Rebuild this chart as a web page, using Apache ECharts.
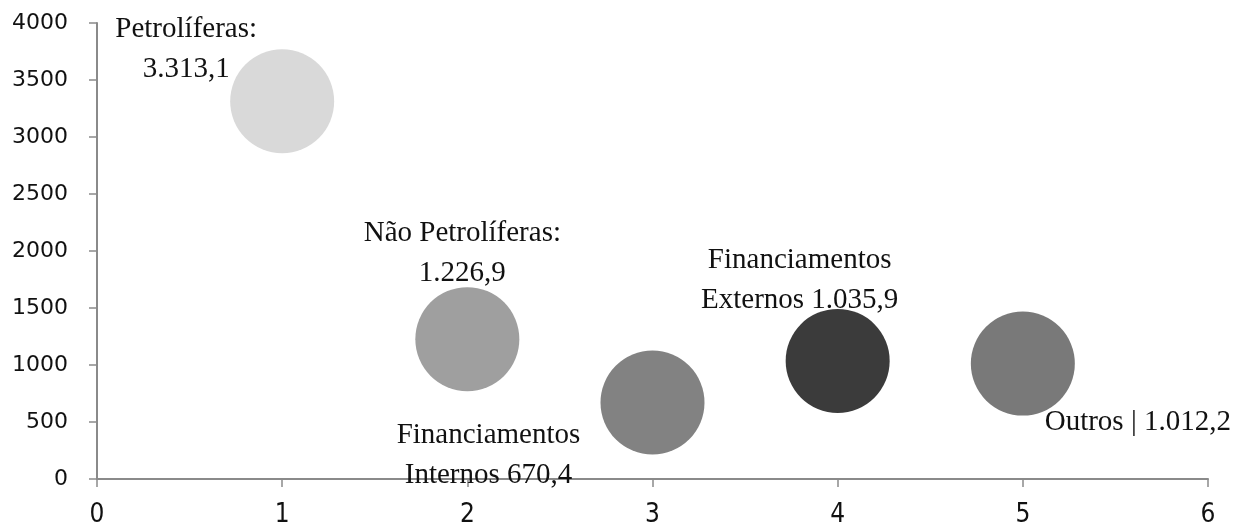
<!DOCTYPE html>
<html>
<head>
<meta charset="utf-8">
<script src="https://cdn.jsdelivr.net/npm/echarts@6/dist/echarts.min.js"></script>
<style>
html,body{margin:0;padding:0;background:#fff;}
#chart{width:1245px;height:528px;}
</style>
</head>
<body>
<div id="chart"></div>
<script>
// Data
var names = ['Petrolíferas', 'Não Petrolíferas', 'Financiamentos Internos', 'Financiamentos Externos', 'Outros'];
var xValues = [1, 2, 3, 4, 5];
var yValues = [3313.1, 1226.9, 670.4, 1035.9, 1012.2];
var labelTexts = ['Petrolíferas:\n3.313,1', 'Não Petrolíferas:\n1.226,9', 'Financiamentos\nInternos 670,4', 'Financiamentos\nExternos 1.035,9', 'Outros | 1.012,2'];
var xTicks = [0, 1, 2, 3, 4, 5, 6];
var yTicks = [0, 500, 1000, 1500, 2000, 2500, 3000, 3500, 4000];

// Styles
var colors = ['#d9d9d9', '#9f9f9f', '#828282', '#3b3b3b', '#797979'];
var labelOffsets = [[-96, -52], [-5, -86], [-164, 53], [-38, -81], [115, 59]];

var chart = echarts.init(document.getElementById('chart'));
var data = names.map(function (n, i) {
  return {
    name: n,
    value: [xValues[i], yValues[i]],
    itemStyle: { color: colors[i], opacity: 1 },
    label: {
      show: true,
      formatter: labelTexts[i],
      position: 'inside',
      offset: labelOffsets[i],
      color: '#111111',
      opacity: 1
    }
  };
});

chart.setOption({
  animation: false,
  backgroundColor: '#ffffff',
  grid: { left: 97, right: 37, top: 23, bottom: 49 },
  xAxis: {
    type: 'value',
    min: xTicks[0],
    max: xTicks[xTicks.length - 1],
    interval: 1,
    splitLine: { show: false },
    axisLine: { show: true, lineStyle: { color: '#8a8a8a', width: 2 } },
    axisTick: { show: true, length: 8, lineStyle: { color: '#8a8a8a', width: 1.5 } },
    axisLabel: {
      color: '#111',
      fontFamily: '"DejaVu Sans Condensed", "Liberation Sans Narrow", "DejaVu Sans", sans-serif',
      fontSize: 26,
      margin: 23
    }
  },
  yAxis: {
    type: 'value',
    min: yTicks[0],
    max: yTicks[yTicks.length - 1],
    interval: 500,
    splitLine: { show: false },
    axisLine: { show: true, lineStyle: { color: '#8a8a8a', width: 2 } },
    axisTick: { show: true, length: 8, lineStyle: { color: '#8a8a8a', width: 1.5 } },
    axisLabel: {
      color: '#111',
      fontFamily: '"DejaVu Sans", sans-serif',
      fontSize: 22,
      margin: 29,
      formatter: function (v) { return String(v); }
    }
  },
  series: [{
    type: 'scatter',
    symbol: 'circle',
    symbolSize: 104,
    data: data,
    itemStyle: { opacity: 1 },
    label: {
      color: '#111',
      fontFamily: '"Liberation Serif", "DejaVu Serif", serif',
      fontSize: 29,
      lineHeight: 40,
      align: 'center',
      verticalAlign: 'middle'
    },
    emphasis: { disabled: true }
  }]
});
</script>
</body>
</html>
